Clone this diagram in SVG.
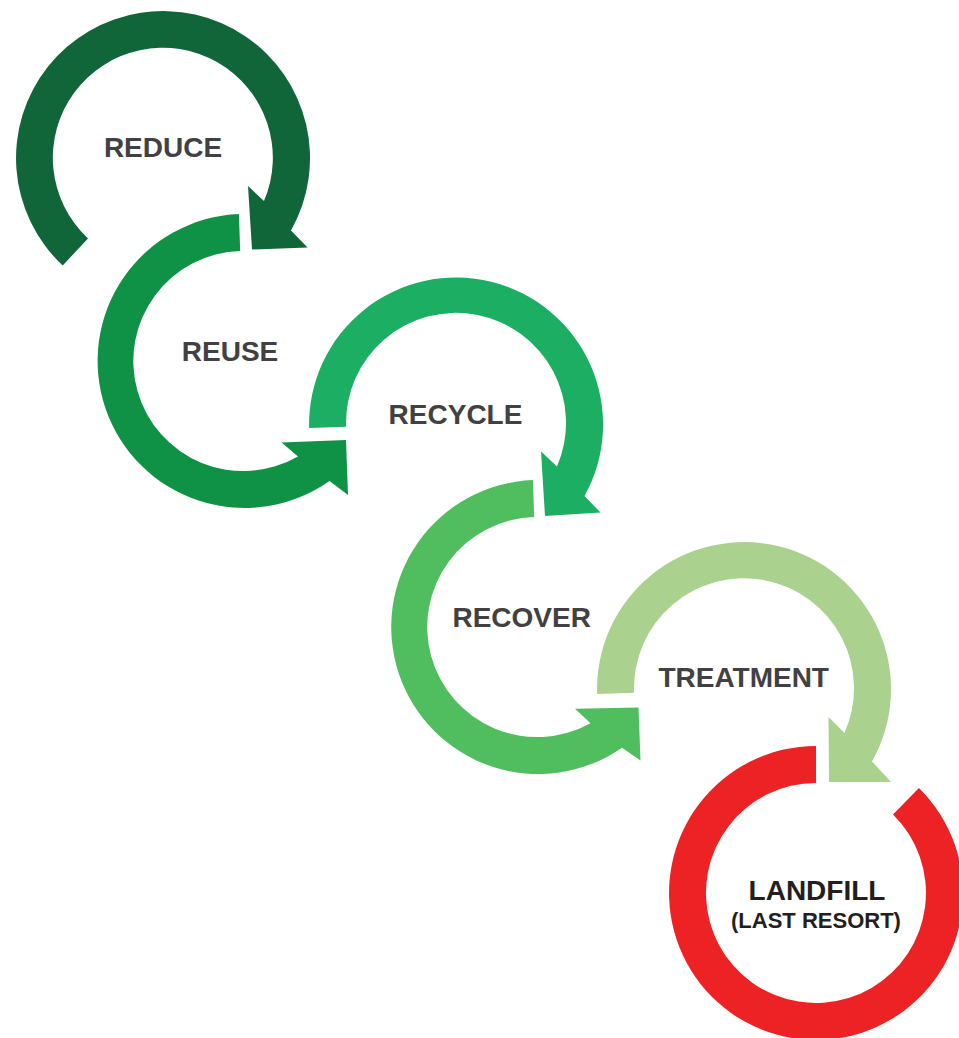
<svg xmlns="http://www.w3.org/2000/svg" width="959" height="1038" viewBox="0 0 959 1038">
<style>
.lbl{font-family:"Liberation Sans",Arial,sans-serif;font-weight:bold;font-size:28px;fill:#414042;text-anchor:middle}
.lf{fill:#231f20}
</style>
<rect width="959" height="1038" fill="#ffffff"/>
<g id="connectors">
</g>
<g id="reduce">
<path fill="#106639" d="M62.7,265.5 A147,147 0 1 1 291,230.4 L307.5,247.5 L252,249.5 L248,186 L264,201 A110,110 0 1 0 88,238.4 Z"/>
<text class="lbl" x="163" y="157">REDUCE</text>
</g>
<g id="reuse">
<path fill="#0f9245" d="M238.9,214.1 A147,147 0 1 0 329.5,481 L348,495 L346,440 L281.5,442.5 L298,456.5 A110,110 0 1 1 240.2,251.1 Z"/>
<text class="lbl" x="230" y="361">REUSE</text>
</g>
<g id="recycle">
<path fill="#1cae63" d="M309.1,428.1 A147,147 0 1 1 584.5,496 L600.5,512.5 L545,516 L541,451.5 L557,466.5 A110,110 0 1 0 346.1,426.8 Z"/>
<text class="lbl" x="455.5" y="424">RECYCLE</text>
</g>
<g id="recover">
<path fill="#50bd5f" d="M532.9,480.1 A147,147 0 1 0 622,747.8 L640.5,760.5 L638.5,707.5 L575,708.8 L590.5,723.3 A110,110 0 1 1 534.2,517.1 Z"/>
<text class="lbl" x="521.7" y="626.5">RECOVER</text>
</g>
<g id="treatment">
<path fill="#abd18f" d="M597.1,694.1 A147,147 0 1 1 872,761.4 L891,782 L829,782 L828.5,717 L844.5,733 A110,110 0 1 0 634.1,692.8 Z"/>
<text class="lbl" x="743.7" y="687">TREATMENT</text>
</g>
<g id="landfill">
<path fill="#ed2224" d="M816,746 A147,147 0 1 0 918.9,788 L893,814.5 A110,110 0 1 1 816,783 Z"/>
<text class="lbl lf" x="817" y="900">LANDFILL</text>
<text class="lbl lf" x="816" y="928" style="font-size:22px">(LAST RESORT)</text>
</g>
</svg>
